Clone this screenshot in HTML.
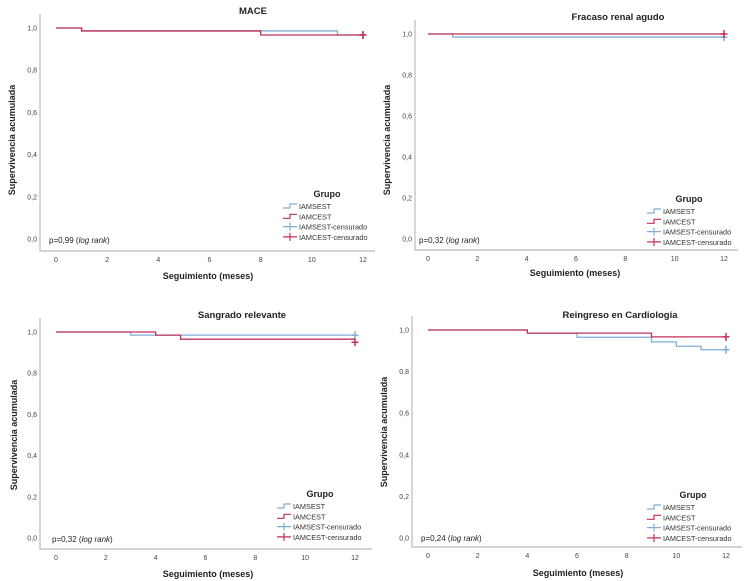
<!DOCTYPE html>
<html><head><meta charset="utf-8"><style>
html,body{margin:0;padding:0;background:#fff;}
svg{display:block;font-family:"Liberation Sans",sans-serif;}
</style></head><body>
<svg id="fig" width="750" height="581" viewBox="0 0 750 581"></svg>
<script>
// Panel data (time in months, cumulative survival)
const xTicks = [0,2,4,6,8,10,12];
const yTicks = [0,0.2,0.4,0.6,0.8,1.0];
const yTickLabels = ["0,0","0,2","0,4","0,6","0,8","1,0"];
const titles = ["MACE","Fracaso renal agudo","Sangrado relevante","Reingreso en Cardiología"];
const pvalues = ["0,99","0,32","0,32","0,24"];
const maceBlueT = [0,1,11,12];  const maceBlueS = [1,0.986,0.967,0.967];
const maceRedT  = [0,1,8,12];   const maceRedS  = [1,0.986,0.967,0.967];
const frBlueT = [0,1,12];       const frBlueS = [1,0.985,0.985];
const frRedT  = [0,12];         const frRedS  = [1,1];
const sgBlueT = [0,3,12];       const sgBlueS = [1,0.985,0.985];
const sgRedT  = [0,4,5,12];     const sgRedS  = [1,0.985,0.965,0.965];
const sgRedCensor = 0.95;
const rcBlueT = [0,4,6,9,10,11,12]; const rcBlueS = [1,0.985,0.965,0.943,0.922,0.905,0.905];
const rcRedT  = [0,4,9,12];         const rcRedS  = [1,0.985,0.967,0.967];

const BLUE="#7eaed8", RED="#c1305a";
const NS="http://www.w3.org/2000/svg";
const svg=document.getElementById('fig');
function mk(tag,attrs,parent,text){const e=document.createElementNS(NS,tag);for(const k in attrs)e.setAttribute(k,attrs[k]);if(text!==undefined)e.textContent=text;(parent||svg).appendChild(e);return e;}

const panels=[
 {ax:40,bottom:251,right:375,x0:56,x12:363,y1:28,y0:239,tx:253,ty:14,xt:208,xty:279,yt:15,ytc:140,lx:283,ly:193,lg:327,px:49,py:243,
  b:[maceBlueT,maceBlueS,0.967],r:[maceRedT,maceRedS,0.967]},
 {ax:415,bottom:250,right:738,x0:428,x12:724,y1:34,y0:239,tx:618,ty:20,xt:575,xty:276,yt:390,ytc:140,lx:647,ly:198,lg:689,px:419,py:243,
  b:[frBlueT,frBlueS,0.985],r:[frRedT,frRedS,1]},
 {ax:40,bottom:549,right:372,x0:56,x12:355,y1:332,y0:538,tx:242,ty:318,xt:208,xty:577,yt:17,ytc:435,lx:277,ly:493,lg:320,px:52,py:542,
  b:[sgBlueT,sgBlueS,0.985],r:[sgRedT,sgRedS,sgRedCensor]},
 {ax:412,bottom:547,right:742,x0:428,x12:726,y1:330,y0:538,tx:620,ty:318,xt:578,xty:576,yt:387,ytc:432,lx:647,ly:494,lg:693,px:421,py:541,
  b:[rcBlueT,rcBlueS,0.905],r:[rcRedT,rcRedS,0.967]}
];

panels.forEach((p,i)=>{
  const g=mk('g',{});
  
  
  const X=t=>p.x0+(p.x12-p.x0)*t/12;
  const Y=s=>p.y0-(p.y0-p.y1)*s;
  const axes=mk('path',{d:`M${p.ax},${p.y1-14}V${p.bottom}H${p.right}`,fill:'none',stroke:'#bbb','stroke-width':1.2},g);
  
  xTicks.forEach(t=>{const e=mk('text',{x:X(t),y:p.bottom+11,'font-size':7,'text-anchor':'middle',fill:'#444'},g,String(t));
    });
  yTicks.forEach((v,k)=>{const e=mk('text',{x:p.ax-3,y:Y(v)+2.5,'font-size':7,'text-anchor':'end',fill:'#444'},g,yTickLabels[k]);
    });
  let e=mk('text',{x:p.tx,y:p.ty,'font-size':9.5,'font-weight':'bold','text-anchor':'middle',fill:'#222'},g,titles[i]);
  
  e=mk('text',{x:p.xt,y:p.xty,'font-size':9,'font-weight':'bold','text-anchor':'middle',fill:'#222'},g,'Seguimiento (meses)');
  
  e=mk('text',{x:p.yt,y:p.ytc,'font-size':9,'font-weight':'bold','text-anchor':'middle',fill:'#222',transform:`rotate(-90 ${p.yt} ${p.ytc})`},g,'Supervivencia acumulada');
  
  e=mk('text',{x:p.px,y:p.py,'font-size':8,fill:'#222'},g);
  
  mk('tspan',{},e,'p='+pvalues[i]+' (');mk('tspan',{'font-style':'italic'},e,'log rank');mk('tspan',{},e,')');
  [[p.b,BLUE,'iamsest-curve'],[p.r,RED,'iamcest-curve']].forEach(([d,c,n])=>{
    const T=d[0],S=d[1];let path=`M${X(T[0])},${Y(S[0])}`;
    for(let k=1;k<T.length;k++){path+=`H${X(T[k])}V${Y(S[k])}`;}
    const l=mk('path',{d:path,fill:'none',stroke:c,'stroke-width':1.3},g);
    
    const cx=X(T[T.length-1]),cy=Y(d[2]);
    const m=mk('path',{d:`M${cx-3.5},${cy}H${cx+3.5}M${cx},${cy-4}V${cy+4}`,stroke:c,'stroke-width':1.5},g);
    
  });
  // legend
  const lg=mk('g',{},g);
  
  mk('text',{x:p.lg,y:p.ly+4,'font-size':9,'font-weight':'bold','text-anchor':'middle',fill:'#222'},lg,'Grupo');
  const items=[['IAMSEST',BLUE,0],['IAMCEST',RED,0],['IAMSEST-censurado',BLUE,1],['IAMCEST-censurado',RED,1]];
  items.forEach((it,k)=>{
    const y=p.ly+13+k*10.3;const x=p.lx;
    const d=it[2]?`M${x},${y}H${x+14}M${x+7},${y-4}V${y+4}`:`M${x},${y+2}H${x+7}V${y-2}H${x+14}`;
    mk('path',{d,fill:'none',stroke:it[1],'stroke-width':1.2},lg);
    const t=mk('text',{x:x+16,y:y+3,'font-size':7.3,fill:'#333'},lg,it[0]);
    
  });
});
</script>
</body></html>
